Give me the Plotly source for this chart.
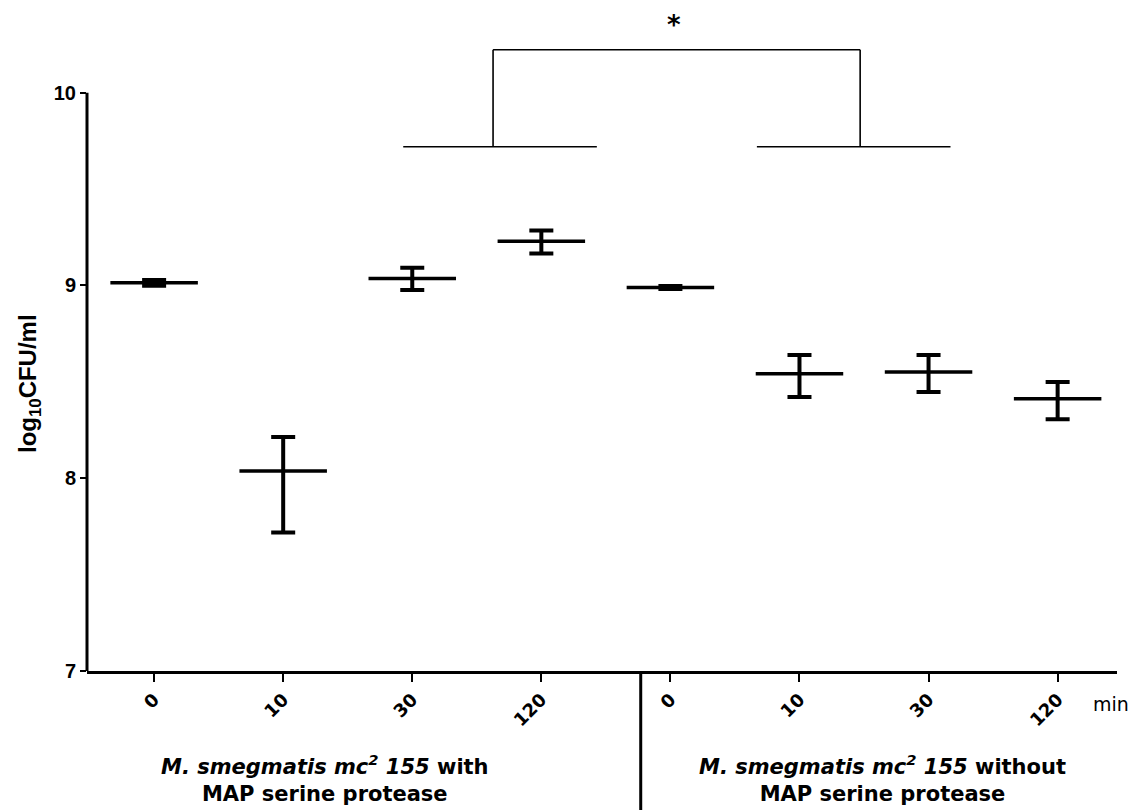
import plotly.graph_objects as go

# ---- data ----
time_labels = ["0", "10", "30", "120", "0", "10", "30", "120"]
with_mean = [9.014, 8.038, 9.036, 9.230]
with_err_plus = [0.015, 0.176, 0.056, 0.055]
with_err_minus = [0.015, 0.319, 0.060, 0.064]
without_mean = [8.990, 8.542, 8.551, 8.413]
without_err_plus = [0.008, 0.097, 0.088, 0.086]
without_err_minus = [0.008, 0.121, 0.104, 0.107]
y_ticks = [7, 8, 9, 10]
group_labels = [
    "<b><i>M. smegmatis mc<sup>2</sup> 155</i> with<br>MAP serine protease</b>",
    "<b><i>M. smegmatis mc<sup>2</sup> 155</i> without<br>MAP serine protease</b>",
]
significance = "*"

x_with = [0, 1, 2, 3]
x_without = [4, 5, 6, 7]

XMIN, XMAX = -0.52, 7.46
YMIN, YMAX = 7, 10.45

fig = go.Figure()
for xs, m, ep, em in [(x_with, with_mean, with_err_plus, with_err_minus),
                      (x_without, without_mean, without_err_plus, without_err_minus)]:
    fig.add_trace(go.Scatter(
        x=xs, y=m, mode="markers",
        marker=dict(symbol="line-ew", size=62.5, color="black",
                    line=dict(color="black", width=3.5)),
        error_y=dict(type="data", symmetric=False, array=ep, arrayminus=em,
                     color="black", thickness=4, width=12),
        showlegend=False, hoverinfo="skip",
    ))

def px(x):
    return (x - XMIN) / (XMAX - XMIN)

shapes = []
# y axis line from 7 to 10
shapes.append(dict(type="line", xref="paper", yref="y", x0=0, x1=0, y0=7, y1=10,
                   line=dict(color="black", width=3)))
# divider between groups
shapes.append(dict(type="line", xref="paper", yref="paper", x0=px(3.77), x1=px(3.77),
                   y0=0, y1=-0.215, line=dict(color="black", width=3)))
# significance bracket
bl = 9.72
bt = 10.223
line = dict(color="black", width=1.6)
shapes += [
    dict(type="line", xref="x", yref="y", x0=1.93, x1=3.43, y0=bl, y1=bl, line=line),
    dict(type="line", xref="x", yref="y", x0=4.67, x1=6.17, y0=bl, y1=bl, line=line),
    dict(type="line", xref="x", yref="y", x0=2.626, x1=2.626, y0=bl, y1=bt, line=line),
    dict(type="line", xref="x", yref="y", x0=5.47, x1=5.47, y0=bl, y1=bt, line=line),
    dict(type="line", xref="x", yref="y", x0=2.626, x1=5.47, y0=bt, y1=bt, line=line),
]

annotations = [
    dict(text="<b>" + significance + "</b>", x=4.03, y=10.35, xref="x", yref="y", showarrow=False,
         font=dict(family="DejaVu Sans", size=26, color="black"),
         xanchor="center", yanchor="middle"),
    dict(text="<b>log<sub>10</sub>CFU/ml</b>", x=-0.056, y=0.432, xref="paper", yref="paper",
         showarrow=False, textangle=-90, xanchor="center", yanchor="middle",
         font=dict(family="Liberation Sans", size=24, color="black")),
    dict(text="min", x=0.9945, y=-0.050, xref="paper", yref="paper", showarrow=False,
         xanchor="center", yanchor="middle",
         font=dict(family="DejaVu Sans", size=19, color="black")),
]
for cx, t in zip([0.231, 0.772], group_labels):
    annotations.append(dict(text=t, x=cx, y=-0.161, xref="paper", yref="paper",
                            showarrow=False, align="center",
                            xanchor="center", yanchor="middle",
                            font=dict(family="DejaVu Sans", size=21, color="black")))

fig.update_layout(
    width=1136, height=810,
    margin=dict(l=87, r=19, t=6, b=139),
    paper_bgcolor="white", plot_bgcolor="white",
    shapes=shapes, annotations=annotations,
    xaxis=dict(range=[XMIN, XMAX], tickmode="array", tickvals=x_with + x_without,
               ticktext=["<b>%s</b>" % t for t in time_labels], tickangle=-45,
               ticks="outside", ticklen=8,
               tickwidth=2, tickcolor="black", showline=True, linecolor="black",
               linewidth=3, showgrid=False, zeroline=False,
               tickfont=dict(family="DejaVu Sans", size=18, color="black")),
    yaxis=dict(range=[YMIN, YMAX], tickmode="array", tickvals=y_ticks,
               ticktext=["<b>%d</b>" % v for v in y_ticks],
               ticks="outside", ticklen=6, tickwidth=2, tickcolor="black",
               showline=False, showgrid=False, zeroline=False,
               tickfont=dict(family="Liberation Sans", size=20, color="black")),
)

fig.write_html("out.html")
